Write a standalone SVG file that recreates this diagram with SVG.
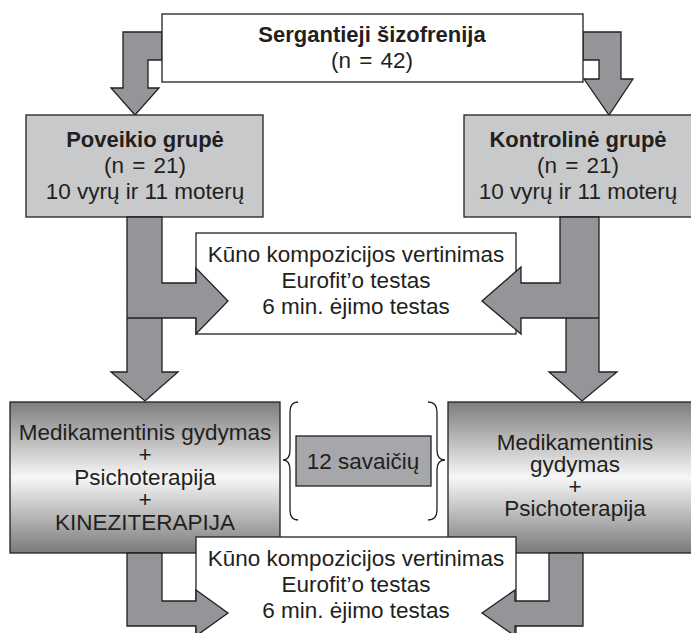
<svg xmlns="http://www.w3.org/2000/svg" width="691" height="633" viewBox="0 0 691 633">
<defs>
<linearGradient id="grad" x1="0" y1="0" x2="0" y2="1">
<stop offset="0" stop-color="#7d7d7d"/>
<stop offset="0.5" stop-color="#f7f7f7"/>
<stop offset="1" stop-color="#7a7a7a"/>
</linearGradient>
<style>
.box{stroke:#231f20;stroke-width:1.3}
.white{fill:#ffffff}
.light{fill:#c8c9cb}
.mid{fill:#a5a7aa}
.gradbox{fill:url(#grad)}
.arrow{fill:#939598;stroke:#231f20;stroke-width:1.3;stroke-linejoin:miter}
.line{fill:none;stroke:#231f20;stroke-width:1.3}
.brace{fill:none;stroke:#231f20;stroke-width:1.3}
text{font-family:"Liberation Sans",Arial,Helvetica,sans-serif;font-size:22.5px;fill:#231f20;text-anchor:middle}
.b{font-weight:bold;font-size:22px}
.n{word-spacing:2px}
</style>
</defs>
<rect width="691" height="633" fill="#ffffff"/>

<g id="connectors-top">
<polygon class="arrow" points="162,32 123,32 123,88 111,88 135,115 159,88 148,88 148,60 162,60"/>
<polygon class="arrow" points="583,32 621,32 621,79 633,79 609,115 584,79 599,79 599,60 583,60"/>
</g>

<g id="node-start">
<rect class="box white" x="162" y="14" width="421" height="68"/>
<text class="b" x="372" y="42">Sergantieji šizofrenija</text>
<text class="n" x="372" y="68">(n = 42)</text>
</g>

<g id="node-poveikio">
<rect class="box light" x="26" y="115" width="237" height="102"/>
<text class="b" x="145" y="147">Poveikio grupė</text>
<text class="n" x="145" y="173">(n = 21)</text>
<text x="145" y="199">10 vyrų ir 11 moterų</text>
</g>

<g id="node-kontroline">
<rect class="box light" x="464" y="115" width="230" height="102"/>
<text class="b" x="578" y="147">Kontrolinė grupė</text>
<text class="n" x="578" y="173">(n = 21)</text>
<text x="578" y="199">10 vyrų ir 11 moterų</text>
</g>

<g id="node-test1">
<rect class="box white" x="196" y="233" width="320" height="101"/>
<text x="356" y="262">Kūno kompozicijos vertinimas</text>
<text x="356" y="288">Eurofit’o testas</text>
<text x="356" y="314">6 min. ėjimo testas</text>
</g>

<g id="node-treat-left">
<rect class="box gradbox" x="10" y="402" width="270" height="151"/>
<text x="145" y="440">Medikamentinis gydymas</text>
<text x="145" y="462">+</text>
<text x="145" y="485">Psichoterapija</text>
<text x="145" y="507">+</text>
<text x="145" y="530">KINEZITERAPIJA</text>
</g>

<g id="node-treat-right">
<rect class="box gradbox" x="448" y="402" width="250" height="151"/>
<text x="575" y="450">Medikamentinis</text>
<text x="575" y="472">gydymas</text>
<text x="575" y="494">+</text>
<text x="575" y="516">Psichoterapija</text>
</g>

<g id="node-weeks">
<path class="brace" d="M298,402 Q290,402 290,412 L290,450 Q290,460 283,460 Q290,460 290,470 L290,510 Q290,520 298,520"/>
<path class="brace" d="M428,402 Q437,402 437,412 L437,450 Q437,460 445,460 Q437,460 437,470 L437,510 Q437,520 428,520"/>
<rect class="box mid" x="296" y="436" width="135" height="50"/>
<text x="363" y="469">12 savaičių</text>
</g>

<g id="node-test2">
<rect class="box white" x="196" y="537" width="320" height="110"/>
<text x="356" y="566">Kūno kompozicijos vertinimas</text>
<text x="356" y="592">Eurofit’o testas</text>
<text x="356" y="618">6 min. ėjimo testas</text>
</g>

<g id="connectors">
<polygon class="arrow" points="127,217 162,217 162,283 196,283 196,268 228,301 196,334 196,318 162,318 162,372 178,372 145,401 111,372 127,372"/>
<line class="line" x1="127" y1="318" x2="162" y2="318"/>
<polygon class="arrow" points="560,217 599,217 599,372 617,372 582,401 549,372 566,372 566,318 521,318 521,334 482,301 521,267 521,283 560,283"/>
<line class="line" x1="566" y1="318" x2="599" y2="318"/>
<polygon class="arrow" points="127,553 162,553 162,601 196,601 196,590 228,613 196,636 196,626 127,626"/>
<polygon class="arrow" points="549,553 583,553 583,626 515,626 515,636 482,613 515,590 515,601 549,601"/>
</g>
</svg>
